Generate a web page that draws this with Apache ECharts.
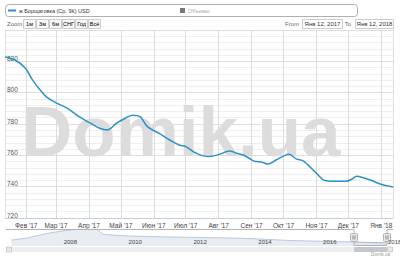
<!DOCTYPE html>
<html><head><meta charset="utf-8">
<script src="https://cdn.jsdelivr.net/npm/echarts@6/dist/echarts.min.js"></script>
<style>html,body{margin:0;padding:0;background:#fff}#c{width:400px;height:258px}</style>
</head><body><div id="c"></div>
<script>
// ---- data ----
const seriesName = 'ж Борщаговка (Ср. 9К) USD';
const volumeName = 'Объемы';
const mainDates = ['2017-01-12','2017-01-21','2017-01-31','2017-02-07','2017-02-14','2017-02-20','2017-03-01','2017-03-11','2017-03-23','2017-04-02','2017-04-11','2017-04-18','2017-04-27','2017-05-06','2017-05-12','2017-05-19','2017-05-26','2017-06-06','2017-06-16','2017-06-25','2017-07-01','2017-07-11','2017-07-23','2017-08-02','2017-08-11','2017-08-18','2017-08-24','2017-08-30','2017-09-05','2017-09-10','2017-09-16','2017-09-24','2017-09-30','2017-10-06','2017-10-13','2017-10-19','2017-10-24','2017-11-01','2017-11-09','2017-11-16','2017-11-29','2017-12-04','2017-12-09','2017-12-15','2017-12-23','2017-12-31','2018-01-06','2018-01-12'];
const mainValues = [822.8,821,815.8,808,801.8,797.3,793.5,790.3,784.5,780.7,777.3,776.2,780.5,784,785.6,784.7,778.3,774,769.8,766.6,765.6,761.3,759.2,760.7,762.8,761.3,760.2,758,756,755.8,754.5,757,759.2,760.7,757.7,756.6,753.9,748.6,743.9,743.5,743.5,744.7,746.6,745.7,743.9,741.7,740.6,739.8];
const navDates = ['2006-06-15','2006-12-01','2007-08-15','2008-07-20','2009-01-30','2009-04-08','2010-02-05','2011-05-01','2012-04-05','2013-03-10','2014-02-05','2015-01-15','2016-04-08','2017-01-12','2018-01-12'];
const navValues = [838,884,999,1084,1084,976,930,907,896,884,861,827,804,792,769];
const monthLabels = ['Янв','Фев','Мар','Апр','Май','Июн','Июл','Авг','Сен','Окт','Ноя','Дек'];
const yTicks = [720,740,760,780,800,820,840];
const rangeButtons = ['1м','3м','6м','СНГ','Год','Всё'];
const fromLabel = 'Янв 12, 2017';
const toLabel = 'Янв 12, 2018';
const navYearLabels = ['2008','2010','2012','2014','2016','2018'];

function ts(s){const p=s.split('-');return new Date(+p[0],+p[1]-1,+p[2]).getTime();}
const mainData = mainDates.map((d,i)=>[ts(d),mainValues[i]]);
const navData = navDates.map((d,i)=>[ts(d),navValues[i]]);
const navYearTicks = navYearLabels.map(y=>new Date(+y,0,1).getTime());

const chart = echarts.init(document.getElementById('c'), null, {renderer:'svg'});
const LINE = '#2b92c6';
const F = 'Liberation Sans, Arial, sans-serif';

// header graphics
const g = [];
g.push({type:'text',x:21,y:96,z:0,style:{text:'Domik.ua',font:'bold 71px '+F,fill:'#dcdcdc'}});
g.push({type:'rect',shape:{x:5.5,y:4.5,width:352,height:12,r:3},style:{fill:'#fff',stroke:'#b0b0b0',lineWidth:1},z:10});
g.push({type:'line',shape:{x1:8,y1:10.5,x2:16,y2:10.5},style:{stroke:LINE,lineWidth:2},z:11});
g.push({type:'text',x:19,y:10.5,z:11,style:{text:seriesName,font:'5.5px '+F,fill:'#333',verticalAlign:'middle'}});
g.push({type:'rect',shape:{x:180,y:8,width:5,height:5},style:{fill:'#777'},z:11});
g.push({type:'text',x:188,y:10.5,z:11,style:{text:volumeName,font:'5.5px '+F,fill:'#aaa',verticalAlign:'middle'}});
g.push({type:'text',x:7,y:24,z:11,style:{text:'Zoom',font:'6px '+F,fill:'#666',verticalAlign:'middle'}});
rangeButtons.forEach((t,i)=>{
  const x=23+i*13;
  g.push({type:'rect',shape:{x:x+0.5,y:19.5,width:12,height:9},style:{fill:'#f7f7f7',stroke:'#cccccc',lineWidth:1},z:11});
  g.push({type:'text',x:x+6.5,y:24,z:12,style:{text:t,font:'5.5px '+F,fill:'#000',align:'center',verticalAlign:'middle'}});
});
g.push({type:'text',x:299,y:24,z:11,style:{text:'From',font:'6px '+F,fill:'#666',align:'right',verticalAlign:'middle'}});
g.push({type:'rect',shape:{x:302.5,y:19.5,width:40,height:9},style:{fill:'#fff',stroke:'#cccccc',lineWidth:1},z:11});
g.push({type:'text',x:322.5,y:24,z:12,style:{text:fromLabel,font:'6px '+F,fill:'#333',align:'center',verticalAlign:'middle'}});
g.push({type:'text',x:351,y:24,z:11,style:{text:'To',font:'6px '+F,fill:'#666',align:'right',verticalAlign:'middle'}});
g.push({type:'rect',shape:{x:355.5,y:19.5,width:38,height:9},style:{fill:'#fff',stroke:'#cccccc',lineWidth:1},z:11});
g.push({type:'text',x:374.5,y:24,z:12,style:{text:toLabel,font:'6px '+F,fill:'#333',align:'center',verticalAlign:'middle'}});
// navigator frame / mask / handles / scrollbar
const NAVL=6, NAVR=393, NAVT=229, NAVB=246;
g.push({type:'rect',shape:{x:NAVL,y:NAVT,width:354-NAVL,height:NAVB-NAVT},style:{fill:'rgba(255,255,255,0.25)'},z:20});
g.push({type:'polyline',shape:{points:[[NAVL,NAVT+0.5],[354,NAVT+0.5],[354,NAVB-0.5],[387,NAVB-0.5],[387,NAVT+0.5],[NAVR,NAVT+0.5]]},style:{stroke:'#b2b1b6',fill:null,lineWidth:1},z:21});
[354,387].forEach(x=>{
  g.push({type:'rect',shape:{x:x-3.5,y:233.5,width:7,height:8,r:1},style:{fill:'#ebe7e8',stroke:'#b2b1b6',lineWidth:1},z:22});
  g.push({type:'line',shape:{x1:x-1,y1:235.5,x2:x-1,y2:239.5},style:{stroke:'#444',lineWidth:0.6},z:23});
  g.push({type:'line',shape:{x1:x+1,y1:235.5,x2:x+1,y2:239.5},style:{stroke:'#444',lineWidth:0.6},z:23});
});
g.push({type:'rect',shape:{x:NAVL+0.5,y:247.5,width:NAVR-NAVL-1,height:4},style:{fill:'#eeeeee',stroke:'#eeeeee'},z:20});
g.push({type:'rect',shape:{x:354.5,y:247.5,width:32,height:4},style:{fill:'#bfc8d1',stroke:'#bbbbbb',lineWidth:0.6},z:21});
g.push({type:'rect',shape:{x:NAVL+0.5,y:247,width:5,height:5},style:{fill:'#ebe7e8',stroke:'#bbbbbb',lineWidth:0.6},z:22});
g.push({type:'rect',shape:{x:NAVR-5.5,y:247,width:5,height:5},style:{fill:'#ebe7e8',stroke:'#bbbbbb',lineWidth:0.6},z:22});
g.push({type:'text',x:NAVR-3,y:254.5,z:22,style:{text:'Domik.ua',font:'4.5px '+F,fill:'#999',align:'right',verticalAlign:'middle'}});

const option = {
  animation:false,
  textStyle:{fontFamily:F},
  grid:[
    {left:5,right:7,top:30,bottom:40,show:false},
    {left:NAVL,right:400-387,top:NAVT,height:NAVB-NAVT,show:false}
  ],
  xAxis:[
    {type:'time',gridIndex:0,min:ts('2017-01-12'),max:ts('2018-01-12'),
     minInterval:28*86400000,maxInterval:31*86400000,
     axisLine:{show:true,lineStyle:{color:'#c0d0e0'}},axisTick:{show:false},
     splitLine:{show:true,lineStyle:{color:'#dcdcdc',width:1}},
     axisLabel:{showMinLabel:false,showMaxLabel:false,fontSize:6.5,color:'#444',margin:4,hideOverlap:false,
       formatter:function(v){const d=new Date(v);if(d.getDate()!==1)return '';return monthLabels[d.getMonth()]+" '"+String(d.getFullYear()).slice(2);}}},
    {type:'time',gridIndex:1,min:new Date(2006,3,14).getTime(),max:ts('2018-01-12'),
     axisLine:{show:false},axisTick:{show:false},splitLine:{show:false},axisLabel:{show:false}}
  ],
  yAxis:[
    {type:'value',gridIndex:0,min:yTicks[0],max:yTicks[yTicks.length-1],interval:20,
     axisLine:{show:true,lineStyle:{color:'#e0e0e0'}},axisTick:{show:false},
     splitLine:{lineStyle:{color:'#dedede'}},
     minorTick:{show:false,splitNumber:5},minorSplitLine:{show:true,lineStyle:{color:'#efefef'}},
     axisLabel:{inside:true,margin:2,fontSize:6.5,color:'#555',verticalAlign:'bottom',lineHeight:6,showMaxLabel:false}},
    {type:'value',gridIndex:1,min:700,max:1091,show:false,splitLine:{show:false}}
  ],
  graphic:g,
  series:[
    {type:'line',name:seriesName,xAxisIndex:0,yAxisIndex:0,data:mainData,smooth:0.4,showSymbol:false,
     lineStyle:{color:LINE,width:1.5},itemStyle:{color:LINE},z:5},
    {type:'line',name:'nav',xAxisIndex:1,yAxisIndex:1,data:navData,smooth:0.2,showSymbol:false,
     lineStyle:{color:'#8fa6c6',width:0.8},areaStyle:{color:'rgba(120,145,185,0.32)'},z:5}
  ]
};
chart.setOption(option);
// position navigator year labels through the navigator axis
const extra = navYearTicks.map((t,i)=>{
  const p = chart.convertToPixel({xAxisIndex:1},t);
  return {type:'text',z:24,x:p+2,y:241.5,style:{text:navYearLabels[i],font:'6px '+F,fill:'#444',verticalAlign:'middle'}};
});
chart.setOption({graphic:g.concat(extra)},{replaceMerge:['graphic']});
</script></body></html>
